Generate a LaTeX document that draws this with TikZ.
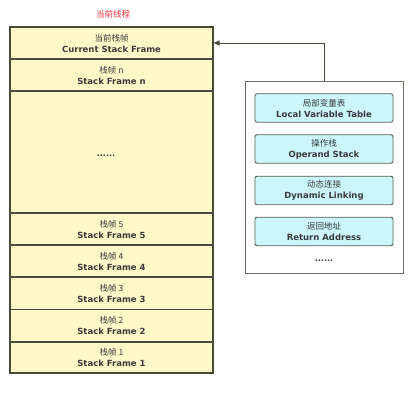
\documentclass[tikz,border=0pt]{standalone}
\usepackage{fontspec}
\setmainfont{DejaVu Sans}
\newfontfamily\cjk{Noto Sans CJK SC}
\usetikzlibrary{arrows.meta}
\definecolor{stackfill}{HTML}{FFF9C9}
\definecolor{stackline}{HTML}{4A4A3C}
\definecolor{cyanfill}{HTML}{CBF6FC}
\definecolor{txt}{HTML}{3A3A3A}
\definecolor{titlered}{HTML}{F0343A}
\tikzset{
  frame/.style={draw=stackline, line width=1.1pt, fill=stackfill, minimum width=203pt, inner sep=0pt, align=center, text=txt, font=\fontsize{8.5}{11}\selectfont},
  part/.style={draw=stackline!90, line width=0.9pt, fill=cyanfill, rounded corners=2pt, minimum width=138pt, minimum height=28.5pt, inner sep=0pt, align=center, text=txt, font=\fontsize{8.5}{11}\selectfont},
  zh/.style={},
}
\newcommand{\two}[2]{{\cjk\fontsize{8.5}{11}\selectfont #1}\\\textbf{#2}}
\begin{document}
\begin{tikzpicture}[x=1pt,y=-1pt]
\useasboundingbox (0,0) rectangle (417,403);
\node[text=titlered, font=\cjk\fontsize{8.5}{10}\selectfont] (title) at (113,14) {当前线程};
\node[frame, minimum height=32pt] (cur) at (111.5,43) {\two{当前栈帧}{Current Stack Frame}};
\node[frame, minimum height=32pt] (fn) at (111.5,75) {\two{栈帧 n}{Stack Frame n}};
\node[frame, minimum height=122pt] (mid) at (111.5,152) {};
\node[text=txt, font=\bfseries\fontsize{8}{10}\selectfont] (dots) at (106,156) {......};
\node[frame, minimum height=32pt] (f5) at (111.5,229) {\two{栈帧 5}{Stack Frame 5}};
\node[frame, minimum height=32pt] (f4) at (111.5,261) {\two{栈帧 4}{Stack Frame 4}};
\node[frame, minimum height=32.5pt] (f3) at (111.5,293.25) {\two{栈帧 3}{Stack Frame 3}};
\node[frame, minimum height=32.5pt] (f2) at (111.5,325.75) {\two{栈帧 2}{Stack Frame 2}};
\node[frame, minimum height=31pt] (f1) at (111.5,357.5) {\two{栈帧 1}{Stack Frame 1}};
\node[draw=stackline!80, line width=1pt, fill=white, minimum width=158pt, minimum height=191pt, inner sep=0pt] (box) at (324,177.5) {};
\node[part] (lvt) at (324,108) {\two{局部变量表}{Local Variable Table}};
\node[part] (ops) at (324,149) {\two{操作栈}{Operand Stack}};
\node[part] (dyn) at (324,190.5) {\two{动态连接}{Dynamic Linking}};
\node[part] (ret) at (324,231.5) {\two{返回地址}{Return Address}};
\node[text=txt, font=\bfseries\fontsize{8}{10}\selectfont] (dots2) at (324,261) {......};
\draw[stackline, line width=0.9pt, -{Triangle[length=6pt,width=5pt]}] (box.north) |- (cur.east);
\end{tikzpicture}
\end{document}
